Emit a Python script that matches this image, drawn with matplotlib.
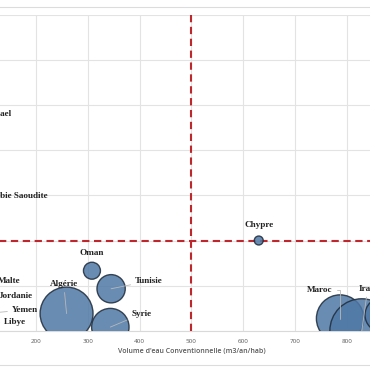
import matplotlib
matplotlib.use('Agg')
import matplotlib.pyplot as plt
import numpy as np
from matplotlib.lines import Line2D

# données (volume d'eau conventionnelle, indicateur vertical, taille de bulle)
pays = ['Israel', 'Arabie Saoudite', 'Malte', 'Jordanie', 'Yemen', 'Libye',
        'Algérie', 'Oman', 'Tunisie', 'Syrie', 'Chypre', 'Maroc', 'Irak', '']
volume = [60, 70, 40, 60, 75, 40, 259, 308, 345, 343.5, 630, 787, 829, 868]
indic = [48, 30, 11.5, 8, 3.5, 1.5, 3.8, 13.3, 9.3, 0.8, 20, 2.7, 0, 3.5]
taille = [7.5, 27, 0.4, 6, 24, 6, 35, 3.6, 10, 17.5, 1.0, 28, 51, 14.5]

seuil_x = 500
seuil_y = 20

# position des étiquettes (décalage en points, alignement, trait de rappel)
etiquettes = {
    'Israel': (35, 0.5, 'right', False),
    'Arabie Saoudite': (57, -0.7, 'right', False),
    'Malte': (48.7, -1.2, 'right', False),
    'Jordanie': (49.8, -0.9, 'right', False),
    'Yemen': (47.8, 3.6, 'right', True),
    'Libye': (52.5, 1.4, 'right', True),
    'Algérie': (-2, 21, 'center', True),
    'Oman': (0, 12.5, 'center', False),
    'Tunisie': (17, 5.5, 'left', True),
    'Syrie': (15, 9.4, 'left', True),
    'Chypre': (0, 11, 'center', False),
    'Maroc': (-5.4, 20.5, 'right', True),
    'Irak': (-2, 30, 'left', True),
}

fig = plt.figure(figsize=(3.7, 3.7), dpi=100)
ax = fig.add_axes([-67.6 / 370, 39.3 / 370, 518 / 370, 315.7 / 370])

ax.set_xlim(0, 1000)
ax.set_ylim(0, 70)
ax.set_xticks(np.arange(0, 1001, 100))
ax.set_yticks(np.arange(0, 71, 10))
ax.grid(True, color='#e3e3e3', linewidth=0.8)
ax.set_axisbelow(True)
for s in ['top', 'left', 'right']:
    ax.spines[s].set_visible(False)
ax.spines['bottom'].set_color('#d9d9d9')
ax.tick_params(length=0, labelsize=4.5, labelcolor='#595959', pad=6)
ax.tick_params(axis='y', labelleft=False)
for lab in ax.get_xticklabels():
    lab.set_family('Open Sans')

ax.set_xlabel("Volume d'eau Conventionnelle (m3/an/hab)", fontsize=5,
              color='#595959', family='Open Sans', fontweight='semibold',
              labelpad=3)

# bulles
ax.scatter(volume, indic, s=np.array(taille) * 41.5, color='#4f78a6',
           alpha=0.85, edgecolors='#1e2b3a', linewidths=1.0, zorder=3)

# seuils
ax.axvline(seuil_x, color='#c0272d', linestyle=(0, (3.5, 2.2)), linewidth=1.5, zorder=4)
ax.axhline(seuil_y, color='#c0272d', linestyle=(0, (3.5, 2.2)), linewidth=1.5, zorder=2)

for nom, x, y in zip(pays, volume, indic):
    if nom not in etiquettes:
        continue
    dx, dy, ha, trait = etiquettes[nom]
    props = None
    if trait:
        props = dict(arrowstyle='-', color='#b8b8b8', linewidth=0.6,
                     shrinkA=1, shrinkB=0)
        if nom == 'Maroc':
            props['connectionstyle'] = 'angle,angleA=0,angleB=90,rad=0'
    ax.annotate(nom, (x, y), xytext=(dx, dy), textcoords='offset points',
                ha=ha, va='center', fontsize=6.6, fontweight='bold',
                family='Liberation Serif', color='#222222',
                arrowprops=props, annotation_clip=False, zorder=5)

# cadre du graphique
fig.add_artist(Line2D([0, 1], [1 - 7 / 370, 1 - 7 / 370], color='#dcdcdc', linewidth=0.8))
fig.add_artist(Line2D([0, 1], [1 - 365 / 370, 1 - 365 / 370], color='#dcdcdc', linewidth=0.8))

fig.savefig('out.png', dpi=100)
